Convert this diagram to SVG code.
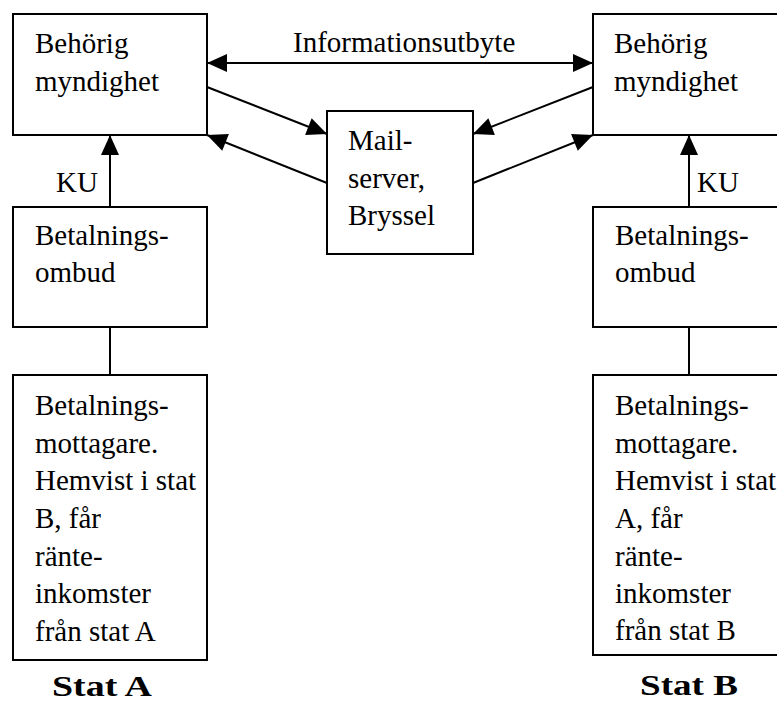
<svg xmlns="http://www.w3.org/2000/svg" width="777" height="702" viewBox="0 0 777 702">
<defs>
<marker id="ah" markerUnits="userSpaceOnUse" markerWidth="20" markerHeight="18" refX="20" refY="9" orient="auto" overflow="visible">
<path d="M0,0 L20,9 L0,18 Z" fill="#000"/>
</marker>
<style>
text{font-family:'Liberation Serif','Times New Roman',Tinos,'DejaVu Serif','Noto Serif',FreeSerif,Times,serif}
.box{fill:#fff;stroke:#000;stroke-width:2}
.t{font-size:29px;fill:#000}
.b{font-size:30px;font-weight:bold;fill:#000}
.c{stroke:#000;stroke-width:2;fill:none}
.a{marker-end:url(#ah)}
</style>
</defs>
<rect width="777" height="702" fill="#fff"/>
<g id="connectors">
<line class="c a" x1="400" y1="63" x2="207" y2="63"/>
<line class="c a" x1="400" y1="63" x2="593" y2="63"/>
<line class="c a" x1="207" y1="87" x2="327" y2="134"/>
<line class="c a" x1="327" y1="183" x2="207" y2="135"/>
<line class="c a" x1="593" y1="87" x2="473" y2="134"/>
<line class="c a" x1="473" y1="183" x2="593" y2="135"/>
<line class="c a" x1="110" y1="207" x2="110" y2="135"/>
<line class="c a" x1="689" y1="207" x2="689" y2="135"/>
<line class="c" x1="110" y1="327" x2="110" y2="375"/>
<line class="c" x1="689" y1="327" x2="689" y2="375"/>
<text class="t" x="293" y="52">Informationsutbyte</text>
<text class="t" x="56" y="192">KU</text>
<text class="t" x="697" y="192">KU</text>
</g>
<g id="behorig-a">
<rect class="box" x="13" y="14" width="194" height="121"/>
<text class="t" x="35" y="53">Behörig</text>
<text class="t" x="35" y="91">myndighet</text>
</g>
<g id="behorig-b">
<rect class="box" x="593" y="14" width="194" height="121"/>
<text class="t" x="614" y="53">Behörig</text>
<text class="t" x="614" y="91">myndighet</text>
</g>
<g id="mailserver">
<rect class="box" x="327" y="111" width="146" height="143"/>
<text class="t" x="348" y="150">Mail-</text>
<text class="t" x="348" y="188">server,</text>
<text class="t" x="348" y="225">Bryssel</text>
</g>
<g id="ombud-a">
<rect class="box" x="13" y="207" width="194" height="120"/>
<text class="t" x="35" y="245">Betalnings-</text>
<text class="t" x="35" y="282">ombud</text>
</g>
<g id="ombud-b">
<rect class="box" x="593" y="207" width="194" height="120"/>
<text class="t" x="615" y="245">Betalnings-</text>
<text class="t" x="615" y="282">ombud</text>
</g>
<g id="mottagare-a">
<rect class="box" x="13" y="375" width="194" height="285"/>
<text class="t" x="35" y="415">Betalnings-</text>
<text class="t" x="35" y="453">mottagare.</text>
<text class="t" x="35" y="490">Hemvist i stat</text>
<text class="t" x="35" y="528">B, får</text>
<text class="t" x="35" y="566">ränte-</text>
<text class="t" x="35" y="603">inkomster</text>
<text class="t" x="35" y="641">från stat A</text>
</g>
<g id="mottagare-b">
<rect class="box" x="593" y="375" width="194" height="280"/>
<text class="t" x="615" y="415">Betalnings-</text>
<text class="t" x="615" y="453">mottagare.</text>
<text class="t" x="615" y="490">Hemvist i stat</text>
<text class="t" x="615" y="528">A, får</text>
<text class="t" x="615" y="566">ränte-</text>
<text class="t" x="615" y="603">inkomster</text>
<text class="t" x="615" y="640">från stat B</text>
</g>
<g id="stat-a">
<text class="b" x="52" y="696" textLength="100" lengthAdjust="spacingAndGlyphs">Stat A</text>
</g>
<g id="stat-b">
<text class="b" x="640" y="695" textLength="98" lengthAdjust="spacingAndGlyphs">Stat B</text>
</g>
</svg>
